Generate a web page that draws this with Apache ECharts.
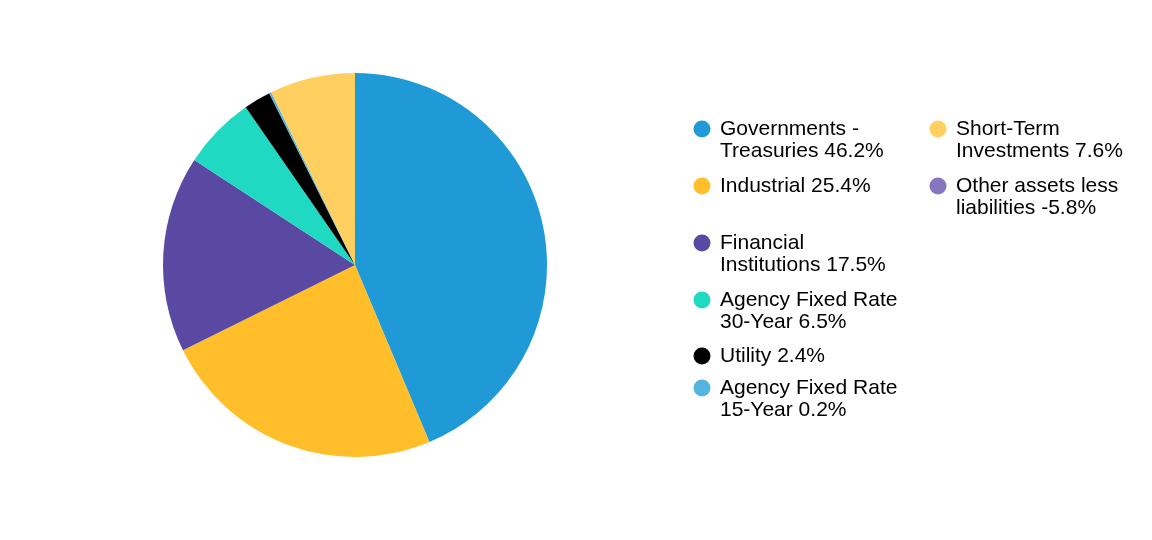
<!DOCTYPE html>
<html>
<head>
<meta charset="utf-8">
<script src="https://cdn.jsdelivr.net/npm/echarts@6/dist/echarts.min.js"></script>
<style>html,body{margin:0;padding:0;background:#fff}#c{width:1152px;height:540px}</style>
</head>
<body>
<div id="c"></div>
<script>
const categories = ["Governments - Treasuries","Industrial","Financial Institutions","Agency Fixed Rate 30-Year","Utility","Agency Fixed Rate 15-Year","Short-Term Investments","Other assets less liabilities"];
const legendLines = [["Governments -","Treasuries"],["Industrial"],["Financial","Institutions"],["Agency Fixed Rate","30-Year"],["Utility"],["Agency Fixed Rate","15-Year"],["Short-Term","Investments"],["Other assets less","liabilities"]];
const values = [46.2, 25.4, 17.5, 6.5, 2.4, 0.2, 7.6, -5.8];
const colors = ["#1f9ad6","#ffbe2a","#5a49a3","#20d9c3","#000000","#55b3e0","#ffcf60","#8577bf"];

// legend placement: [icon center x, first line center y]
const legendPos = [[702,129],[702,186],[702,243],[702,300],[702,356],[702,388],[938,129],[938,186]];

const FS = 21, LH = 22;
const legends = categories.map((name, i) => {
  const nLines = legendLines[i].length;
  const cy = legendPos[i][1];
  return {
    data: [name],
    left: legendPos[i][0] - 13 + 4.5,
    top: nLines === 2 ? cy - 33 : cy - 11,
    padding: 0,
    itemWidth: 26,
    itemHeight: 17,
    icon: 'circle',
    selectedMode: false,
    formatter: function (n) {
      const k = categories.indexOf(n);
      const ls = legendLines[k].slice();
      ls[ls.length - 1] = ls[ls.length - 1] + ' ' + values[k].toFixed(1) + '%';
      return (ls.length === 2 ? ' \n' : '') + ls.join('\n');
    },
    textStyle: {
      fontFamily: 'Liberation Sans, Arial, sans-serif', fontSize: FS, lineHeight: LH, color: '#000'
    }
  };
});

const chart = echarts.init(document.getElementById('c'), null, {renderer: 'canvas'});
chart.setOption({
  animation: false,
  legend: legends,
  series: [{
    type: 'pie',
    center: [355, 265],
    radius: [0, 192],
    startAngle: 90,
    clockwise: true,
    label: {show: false},
    labelLine: {show: false},
    emphasis: {disabled: true},
    itemStyle: {borderWidth: 0},
    data: categories.map((name, i) => ({
      name: name,
      value: values[i] < 0 ? '-' : values[i],
      itemStyle: {color: colors[i]}
    }))
  }]
});
</script>
</body>
</html>
